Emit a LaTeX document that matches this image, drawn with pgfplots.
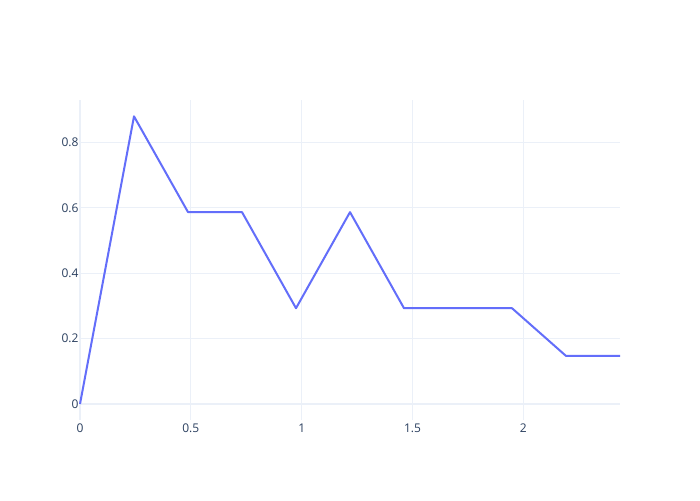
\documentclass[border=0pt]{standalone}
\usepackage{fontspec}
\setmainfont{Open Sans}
\usepackage{pgfplots}
\pgfplotsset{compat=1.18}
\definecolor{gridc}{HTML}{EBF0F8}
\definecolor{tickc}{HTML}{2A3F5F}
\definecolor{linec}{HTML}{636EFA}
\begin{document}
\begin{tikzpicture}
\path[use as bounding box, fill=white] (0,0) rectangle (700pt,500pt);
\begin{axis}[
  at={(80pt,80pt)}, anchor=south west,
  width=540pt, height=320pt, scale only axis,
  xmin=0, xmax=2.436, ymin=-0.049, ymax=0.930,
  xtick={0.5,1,1.5,2}, ytick={0.2,0.4,0.6,0.8},
  extra x ticks={0}, extra y ticks={0},
  extra x tick style={major grid style={line width=2pt, color=gridc}},
  extra y tick style={major grid style={line width=2pt, color=gridc}},
  xmajorgrids, ymajorgrids,
  major grid style={line width=1pt, color=gridc},
  axis line style={draw=none},
  tick style={draw=none},
  /pgf/number format/assume math mode=true,
  ticklabel style={font=\fontsize{12}{14}\selectfont, text=tickc},
  yticklabel style={xshift=2pt},
  clip=false,
]
\addplot[linec, line width=2pt, line join=round] coordinates {
  (0,0) (0.2436,0.880) (0.4872,0.587) (0.7308,0.587) (0.9744,0.293)
  (1.2180,0.587) (1.4616,0.293) (1.7052,0.293) (1.9488,0.293)
  (2.1924,0.147) (2.4360,0.147)
};
\end{axis}
\end{tikzpicture}
\end{document}
